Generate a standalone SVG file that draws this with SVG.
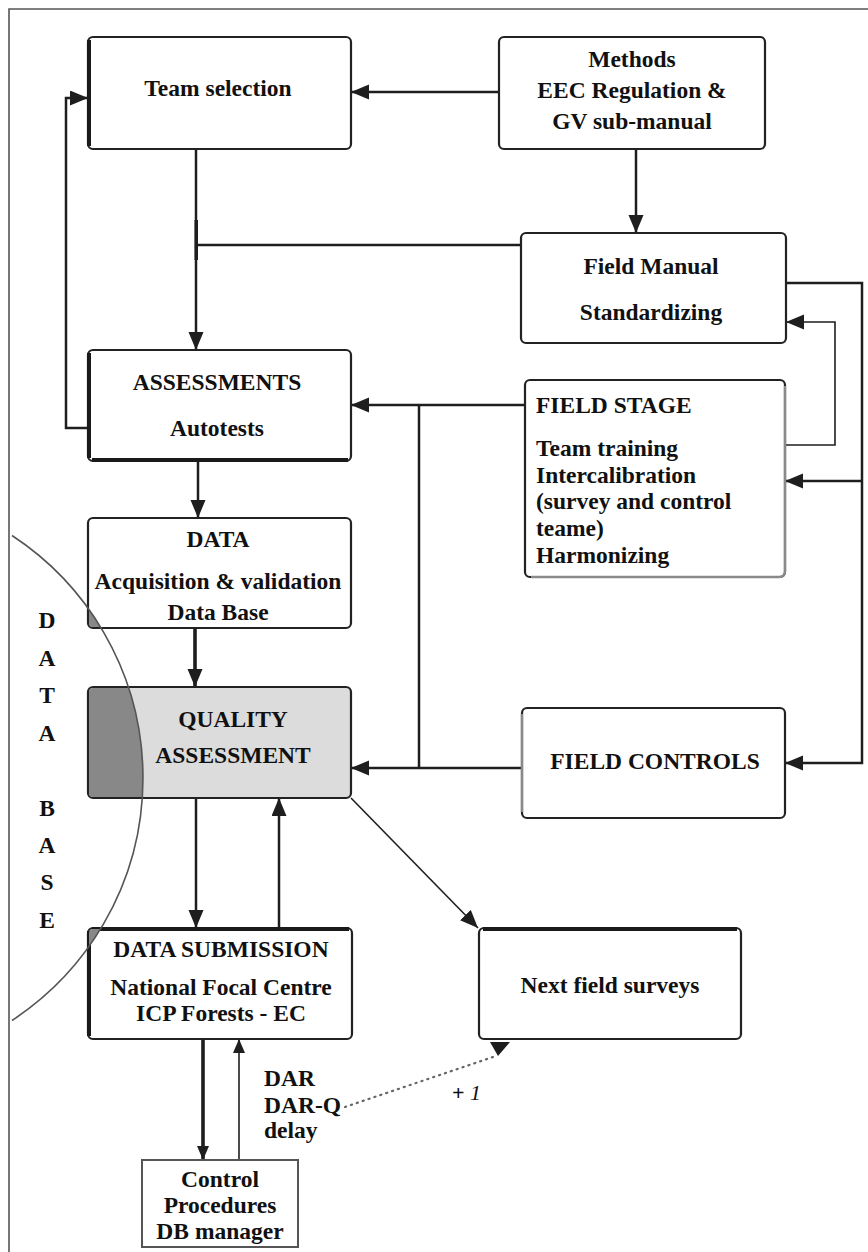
<svg xmlns="http://www.w3.org/2000/svg" width="868" height="1252" viewBox="0 0 868 1252">
<style>
  .box { fill: #ffffff; stroke: #222222; stroke-width: 2.2; }
  .qbox { fill: #dcdcdc; stroke: #222222; stroke-width: 2.2; }
  .sq { fill: #ffffff; stroke: #555555; stroke-width: 2; }
  .edge { stroke: #1a1a1a; stroke-width: 4; fill: none; }
  .light { stroke: #8a8a8a; stroke-width: 2.4; fill: none; }
  .t { font-family: "Liberation Serif", "Times New Roman", serif; font-weight: bold; font-size: 23.5px; fill: #111111; }
  .c { text-anchor: middle; }
  .ln { stroke: #1e1e1e; stroke-width: 2.5; fill: none; }
  .thin { stroke: #1e1e1e; stroke-width: 1.6; fill: none; }
  .thick { stroke: #1e1e1e; stroke-width: 3.6; fill: none; }
  .frame { stroke: #555555; stroke-width: 1.6; fill: none; }
</style>
<defs>
  <marker id="ah" markerUnits="userSpaceOnUse" markerWidth="19" markerHeight="16" refX="18" refY="7.5" orient="auto">
    <path d="M0,0 L18,7.5 L0,15 z" fill="#1e1e1e"/>
  </marker>
  <marker id="ahs" markerUnits="userSpaceOnUse" markerWidth="15" markerHeight="12" refX="14" refY="6" orient="auto">
    <path d="M0,0 L14,6 L0,12 z" fill="#1e1e1e"/>
  </marker>
  <clipPath id="dbclip">
    <rect x="89" y="519" width="261" height="108" rx="4"/>
    <rect x="89" y="688" width="261" height="109" rx="4"/>
    <rect x="89" y="929" width="262" height="109" rx="4"/>
  </clipPath>
</defs>

<g id="frame">
  <path class="frame" d="M9,1252 L9,9 L868,9"/>
</g>

<g id="connectors">
  <line class="ln" x1="499" y1="92" x2="351" y2="92" marker-end="url(#ah)"/>
  <line class="ln" x1="636" y1="149" x2="636" y2="233" marker-end="url(#ah)"/>
  <line class="ln" x1="196" y1="149" x2="196" y2="350" marker-end="url(#ah)"/>
  <line class="ln" x1="521" y1="245" x2="196" y2="245"/>
  <rect x="194.5" y="220" width="3.5" height="40" fill="#1e1e1e"/>
  <path class="ln" d="M88,428 L66,428 L66,98 L88,98" marker-end="url(#ah)"/>
  <line class="ln" x1="525" y1="405" x2="351" y2="405" marker-end="url(#ah)"/>
  <line class="ln" x1="419" y1="405" x2="419" y2="768"/>
  <line class="ln" x1="522" y1="768" x2="351" y2="768" marker-end="url(#ah)"/>
  <path class="ln" d="M786,283 L862,283 L862,763 L785,763" marker-end="url(#ah)"/>
  <line class="ln" x1="862" y1="481" x2="785" y2="481" marker-end="url(#ah)"/>
  <path class="thin" d="M785,445 L835,445 L835,322 L786,322" marker-end="url(#ah)"/>
  <line class="ln" x1="198" y1="461" x2="198" y2="518" marker-end="url(#ah)"/>
  <line class="thick" x1="195" y1="628" x2="195" y2="687" marker-end="url(#ah)"/>
  <line class="ln" x1="196" y1="798" x2="196" y2="928" marker-end="url(#ah)"/>
  <line class="ln" x1="279" y1="928" x2="279" y2="798" marker-end="url(#ah)"/>
  <line class="thin" x1="351" y1="798" x2="478" y2="928" marker-end="url(#ah)"/>
  <line class="thick" x1="203" y1="1039" x2="203" y2="1160" marker-end="url(#ahs)"/>
  <line class="thin" x1="239" y1="1160" x2="239" y2="1039" marker-end="url(#ahs)"/>
  <line x1="345" y1="1107" x2="496" y2="1056" stroke="#666666" stroke-width="2.2" stroke-dasharray="1.2,5" stroke-linecap="round"/>
  <path d="M490,1042 L510,1042 L498,1056 z" fill="#1e1e1e"/>
</g>

<g id="team-selection">
  <rect class="box" x="88" y="37" width="263" height="112" rx="5"/>
  <line class="edge" x1="89" y1="40" x2="89" y2="146"/>
  <text class="t c" x="218" y="96">Team selection</text>
</g>

<g id="methods">
  <rect class="box" x="499" y="37" width="266" height="112" rx="5"/>
  <text class="t c" x="632" y="67">Methods</text>
  <text class="t c" x="632" y="98">EEC Regulation &amp;</text>
  <text class="t c" x="632" y="129">GV sub-manual</text>
</g>

<g id="field-manual">
  <rect class="box" x="521" y="233" width="265" height="110" rx="5"/>
  <text class="t c" x="651" y="274">Field Manual</text>
  <text class="t c" x="651" y="320">Standardizing</text>
</g>

<g id="assessments">
  <rect class="box" x="88" y="350" width="263" height="111" rx="5"/>
  <line class="edge" x1="89" y1="353" x2="89" y2="458"/>
  <line class="edge" x1="92" y1="460" x2="348" y2="460"/>
  <text class="t c" x="217" y="390">ASSESSMENTS</text>
  <text class="t c" x="217" y="436">Autotests</text>
</g>

<g id="field-stage">
  <rect class="box" x="525" y="380" width="260" height="197" rx="5"/>
  <path class="light" d="M785,386 L785,571 Q785,577 779,577 L531,577"/>
  <text class="t" x="536" y="413">FIELD STAGE</text>
  <text class="t" x="536" y="456">Team training</text>
  <text class="t" x="536" y="483">Intercalibration</text>
  <text class="t" x="536" y="509">(survey and control</text>
  <text class="t" x="536" y="536">teame)</text>
  <text class="t" x="536" y="563">Harmonizing</text>
</g>

<g id="data">
  <rect class="box" x="88" y="518" width="263" height="110" rx="5"/>
  <text class="t c" x="218" y="547">DATA</text>
  <text class="t c" x="218" y="589">Acquisition &amp; validation</text>
  <text class="t c" x="218" y="620">Data Base</text>
</g>

<g id="quality-assessment">
  <rect class="qbox" x="88" y="687" width="263" height="111" rx="5"/>
  <text class="t c" x="233" y="727">QUALITY</text>
  <text class="t c" x="233" y="763">ASSESSMENT</text>
</g>

<g id="field-controls">
  <rect class="box" x="522" y="708" width="263" height="110" rx="5"/>
  <line class="light" x1="522" y1="714" x2="522" y2="812"/>
  <text class="t c" x="655" y="769">FIELD CONTROLS</text>
</g>

<g id="data-submission">
  <rect class="box" x="88" y="928" width="264" height="111" rx="5"/>
  <line class="edge" x1="89" y1="931" x2="89" y2="1036"/>
  <line class="edge" x1="92" y1="929" x2="349" y2="929"/>
  <text class="t c" x="221" y="957">DATA SUBMISSION</text>
  <text class="t c" x="221" y="995">National Focal Centre</text>
  <text class="t c" x="221" y="1021">ICP Forests - EC</text>
</g>

<g id="next-field-surveys">
  <rect class="box" x="479" y="928" width="262" height="111" rx="5"/>
  <line class="edge" x1="483" y1="929" x2="737" y2="929"/>
  <text class="t c" x="610" y="993">Next field surveys</text>
</g>

<g id="control-procedures">
  <rect class="sq" x="142" y="1160" width="156" height="87"/>
  <text class="t c" x="220" y="1187">Control</text>
  <text class="t c" x="220" y="1213">Procedures</text>
  <text class="t c" x="220" y="1239">DB manager</text>
</g>

<g id="database-zone">
  <circle cx="-147" cy="778" r="290" fill="#888888" clip-path="url(#dbclip)"/>
  <path d="M12,535.5 A290,290 0 0 1 12,1020.5" fill="none" stroke="#555555" stroke-width="1.6"/>
  <text class="t c" x="47" y="628">D</text>
  <text class="t c" x="47" y="666">A</text>
  <text class="t c" x="47" y="703">T</text>
  <text class="t c" x="47" y="741">A</text>
  <text class="t c" x="47" y="816">B</text>
  <text class="t c" x="47" y="853">A</text>
  <text class="t c" x="47" y="890">S</text>
  <text class="t c" x="47" y="928">E</text>
</g>

<g id="labels">
  <text class="t" x="264" y="1086">DAR</text>
  <text class="t" x="264" y="1113">DAR-Q</text>
  <text class="t" x="264" y="1138">delay</text>
  <text x="452" y="1100" font-family="Liberation Serif, serif" font-size="22" fill="#111111"><tspan font-weight="bold">+ </tspan><tspan font-style="italic">1</tspan></text>
</g>
</svg>
